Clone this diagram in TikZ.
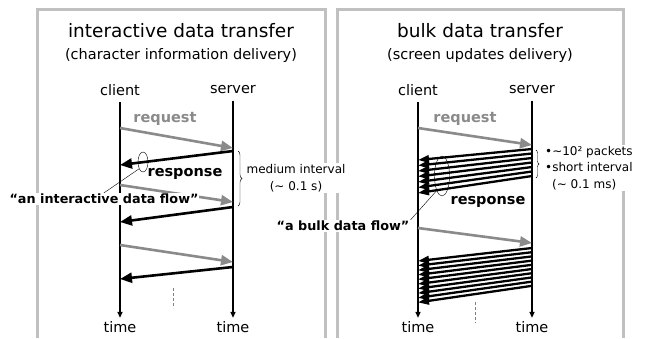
\documentclass[tikz,border=0pt]{standalone}
\usepackage{fontspec}
\setmainfont{DejaVu Sans}
\usetikzlibrary{arrows.meta,shapes.geometric,decorations.pathreplacing}

\definecolor{boxgray}{RGB}{192,192,192}
\definecolor{reqgray}{RGB}{138,138,138}

\begin{document}
\begin{tikzpicture}[x=1pt,y=-1pt,>={Triangle[length=12pt,width=10pt]},
  title/.style={font=\fontsize{18.5}{20}\selectfont},
  subtitle/.style={font=\fontsize{14.5}{16}\selectfont},
  host/.style={font=\fontsize{14.5}{16}\selectfont},
  tline/.style={-{Triangle[length=6pt,width=5pt]},line width=1.4pt,shorten <=3pt},
  req/.style={->,reqgray,line width=2.6pt},
  rsp/.style={->,line width=2.6pt},
  bulk/.style={-{Triangle[length=11pt,width=7.5pt]},line width=2.3pt},
  reqtext/.style={font=\fontsize{14.5}{16}\selectfont\bfseries,text=reqgray},
  rsptext/.style={font=\fontsize{14.5}{16}\selectfont\bfseries},
  flowtext/.style={font=\fontsize{12.8}{14}\selectfont\bfseries,fill=white,inner sep=1pt},
  note/.style={font=\fontsize{12}{16.5}\selectfont,fill=white,inner sep=1pt},
  lasso/.style={draw,ellipse,thin,inner sep=0pt},
  pause/.style={densely dashed,gray,line width=0.8pt},
  panel/.style={boxgray,line width=3pt}]

  \useasboundingbox (0,0) rectangle (655,338);

  \draw[panel] (37,338) -- (37,9) -- (325,9) -- (325,338);
  \draw[panel] (337,338) -- (337,9) -- (623,9) -- (623,338);

  \node[title] (titleA) at (181,31) {interactive data transfer};
  \node[subtitle] (subA) at (181,55) {(character information delivery)};
  \node[title] (titleB) at (480,31) {bulk data transfer};
  \node[subtitle] (subB) at (480,55) {(screen updates delivery)};

  % interactive side
  \node[host] (cliA) at (120,90) {client};
  \node[host] (srvA) at (233,90) {server};
  \node[host] (timeA1) at (120,327) {time};
  \node[host] (timeA2) at (233,327) {time};
  \draw[tline] (cliA) -- (timeA1);
  \draw[tline] (srvA) -- (timeA2);

  \foreach \ya/\yb in {128/148,185/202,245/262}
    \draw[req] (cliA |- 0,\ya) -- (srvA |- 0,\yb);
  \foreach \ya/\yb in {151/165,207/222,267/279}
    \draw[rsp] (srvA |- 0,\ya) -- (cliA |- 0,\yb);
  \draw[pause] (173,288) -- (173,308);

  \node[reqtext] (reqA) at (165,119) {request};
  \node[rsptext] (rspA) at (185,174) {response};
  \node[lasso,minimum width=10pt,minimum height=20pt] (lassoA) at (143,162) {};
  \node[flowtext] (flowA) at (104,199) {“an interactive data flow”};
  \draw[thin] (lassoA.240) -- (flowA.north);

  \draw[decorate,decoration={brace,amplitude=4pt}] (238,151) -- (238,206);
  \node[note,align=center] (midA) at (296,178) {medium interval\\(\textasciitilde{} 0.1 s)};

  % bulk side
  \node[host] (cliB) at (418,90) {client};
  \node[host] (srvB) at (532,90) {server};
  \node[host] (timeB1) at (418,327) {time};
  \node[host] (timeB2) at (532,327) {time};
  \draw[tline] (cliB) -- (timeB1);
  \draw[tline] (srvB) -- (timeB2);

  \draw[req] (cliB |- 0,128) -- (srvB |- 0,145);
  \foreach \i in {0,...,6}
    \draw[bulk] (srvB |- 0,149+4.5*\i) -- (cliB |- 0,160+5.5*\i);
  \draw[req] (cliB |- 0,228) -- (srvB |- 0,243);
  \foreach \i in {0,...,9}
    \draw[bulk] (srvB |- 0,248+4.2*\i) -- (cliB |- 0,261+4.6*\i);
  \draw[pause] (475,302) -- (475,323);

  \node[reqtext] (reqB) at (465,119) {request};
  \node[rsptext] (rspB) at (488,202) {response};
  \node[lasso,minimum width=15pt,minimum height=40pt] (lassoB) at (442,176) {};
  \node[flowtext] (flowB) at (343,226) {“a bulk data flow”};
  \draw[thin] (lassoB.250) -- (flowB.north east);

  \draw[decorate,decoration={brace,amplitude=3pt}] (536,150) -- (536,178);
  \node[note,align=left,anchor=west] (noteB) at (544,168)
    {•\textasciitilde 10² packets\\•short interval\\\hspace*{7pt}(\textasciitilde{} 0.1 ms)};

\end{tikzpicture}
\end{document}
